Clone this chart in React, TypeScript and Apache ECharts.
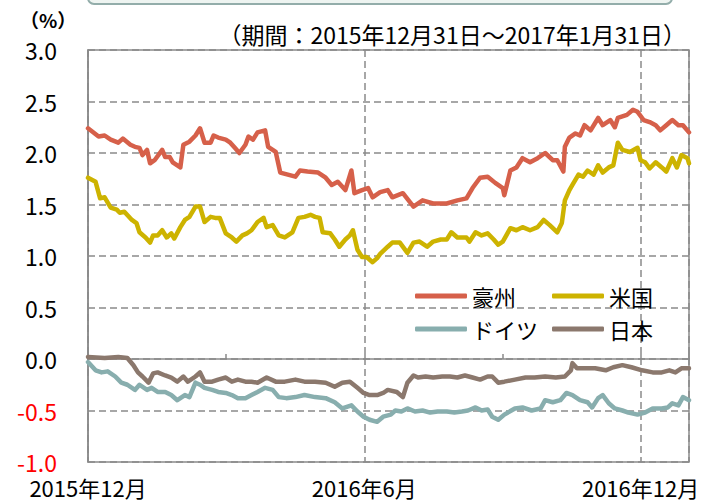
import React, { useEffect, useRef } from "react";
import * as echarts from "echarts";

// Day offsets from 2015-12-31, values in %
const seriesNames = ["豪州", "米国", "ドイツ", "日本"];
const seriesColors = ["#D6604A", "#CDB300", "#88AEAE", "#8B786D"];

const aus: [number, number][] = [
  [0, 2.24], [7, 2.16], [11, 2.17], [15, 2.13], [20, 2.1], [23, 2.14], [28, 2.08], [31, 2.06], [34, 2.05],
  [36, 1.98], [39, 2.03], [41, 1.9], [44, 1.93], [49, 2.03], [51, 1.96], [54, 1.96], [56, 1.91], [61, 1.86],
  [63, 2.08], [67, 2.11], [71, 2.17], [74, 2.24], [77, 2.1], [81, 2.1], [83, 2.17], [86, 2.15], [91, 2.13],
  [94, 2.1], [97, 2.05], [100, 2.0], [104, 2.08], [106, 2.16], [109, 2.13], [112, 2.2], [117, 2.22], [119, 2.06],
  [124, 2.01], [127, 1.81], [132, 1.79], [137, 1.77], [140, 1.83], [145, 1.82], [152, 1.81], [157, 1.76],
  [161, 1.69], [165, 1.72], [170, 1.64], [174, 1.83], [176, 1.61], [181, 1.64], [185, 1.66], [188, 1.57],
  [193, 1.62], [198, 1.64], [201, 1.57], [208, 1.61], [215, 1.48], [221, 1.54], [228, 1.51], [237, 1.51],
  [244, 1.54], [250, 1.56], [254, 1.66], [259, 1.76], [264, 1.77], [269, 1.71], [274, 1.66], [275, 1.59],
  [279, 1.83], [283, 1.86], [287, 1.95], [292, 1.91], [297, 1.95], [302, 2.0], [307, 1.93], [310, 1.93],
  [314, 1.82], [315, 2.06], [318, 2.15], [322, 2.19], [325, 2.17], [328, 2.27], [332, 2.22], [337, 2.34],
  [340, 2.27], [345, 2.32], [348, 2.25], [350, 2.34], [356, 2.37], [360, 2.42], [363, 2.4], [367, 2.32],
  [371, 2.3], [375, 2.27], [378, 2.22], [382, 2.27], [386, 2.32], [390, 2.27], [393, 2.27], [397, 2.2],
];

const us: [number, number][] = [
  [0, 1.76], [5, 1.72], [8, 1.56], [11, 1.57], [15, 1.47], [19, 1.45], [21, 1.42], [24, 1.43], [29, 1.35],
  [32, 1.32], [34, 1.23], [38, 1.18], [41, 1.13], [43, 1.2], [46, 1.2], [49, 1.25], [52, 1.18], [55, 1.22],
  [57, 1.17], [61, 1.28], [64, 1.35], [67, 1.38], [71, 1.48], [74, 1.48], [77, 1.33], [81, 1.38], [84, 1.37],
  [87, 1.37], [91, 1.22], [95, 1.18], [98, 1.14], [102, 1.2], [105, 1.22], [108, 1.25], [112, 1.33], [116, 1.37],
  [118, 1.28], [122, 1.3], [126, 1.2], [130, 1.18], [135, 1.23], [139, 1.37], [143, 1.38], [147, 1.4],
  [150, 1.38], [153, 1.37], [155, 1.23], [160, 1.22], [163, 1.16], [166, 1.09], [170, 1.16], [173, 1.2],
  [175, 1.25], [178, 1.06], [181, 0.99], [184, 0.99], [188, 0.94], [191, 0.98], [193, 1.02], [198, 1.09],
  [201, 1.13], [206, 1.13], [211, 1.03], [215, 1.13], [219, 1.14], [224, 1.09], [228, 1.14], [233, 1.16],
  [237, 1.16], [240, 1.23], [244, 1.18], [250, 1.18], [252, 1.14], [256, 1.23], [260, 1.2], [264, 1.22],
  [268, 1.16], [271, 1.11], [274, 1.14], [279, 1.27], [283, 1.25], [287, 1.28], [292, 1.25], [297, 1.28],
  [301, 1.35], [305, 1.3], [310, 1.23], [313, 1.32], [315, 1.54], [318, 1.64], [320, 1.69], [324, 1.79],
  [327, 1.77], [330, 1.83], [334, 1.79], [337, 1.88], [340, 1.81], [344, 1.86], [347, 1.88], [350, 2.1],
  [353, 2.03], [358, 2.01], [363, 2.05], [365, 1.93], [368, 1.91], [371, 1.85], [375, 1.91], [379, 1.86],
  [382, 1.82], [386, 1.95], [389, 1.86], [392, 1.98], [396, 1.95], [397, 1.9],
];

const de: [number, number][] = [
  [0, -0.03], [5, -0.11], [9, -0.13], [13, -0.12], [18, -0.17], [22, -0.23], [26, -0.25], [31, -0.3],
  [34, -0.25], [39, -0.3], [42, -0.28], [46, -0.32], [51, -0.32], [55, -0.35], [59, -0.4], [64, -0.35],
  [67, -0.37], [71, -0.23], [74, -0.25], [77, -0.28], [82, -0.3], [86, -0.32], [91, -0.33], [95, -0.35],
  [99, -0.38], [104, -0.38], [108, -0.35], [112, -0.32], [117, -0.28], [122, -0.3], [126, -0.37], [131, -0.38],
  [137, -0.37], [143, -0.35], [150, -0.37], [157, -0.38], [163, -0.42], [168, -0.48], [174, -0.45],
  [178, -0.51], [182, -0.56], [186, -0.59], [191, -0.61], [195, -0.56], [200, -0.54], [203, -0.5],
  [207, -0.51], [211, -0.48], [216, -0.51], [221, -0.5], [226, -0.52], [231, -0.51], [237, -0.51],
  [242, -0.52], [247, -0.51], [251, -0.5], [256, -0.47], [260, -0.5], [264, -0.49], [267, -0.56],
  [271, -0.59], [275, -0.54], [282, -0.48], [287, -0.47], [293, -0.5], [299, -0.48], [302, -0.4],
  [307, -0.42], [312, -0.4], [316, -0.33], [320, -0.35], [325, -0.4], [330, -0.42], [333, -0.47],
  [337, -0.38], [340, -0.35], [344, -0.43], [348, -0.48], [353, -0.5], [357, -0.52], [363, -0.54],
  [368, -0.52], [373, -0.48], [379, -0.48], [383, -0.47], [386, -0.43], [390, -0.45], [393, -0.37], [397, -0.4],
];

const jp: [number, number][] = [
  [0, 0.02], [11, 0.01], [20, 0.02], [26, 0.01], [30, -0.06], [33, -0.13], [36, -0.17], [40, -0.23],
  [43, -0.14], [46, -0.13], [51, -0.16], [55, -0.18], [59, -0.22], [63, -0.17], [66, -0.22], [71, -0.17],
  [74, -0.13], [77, -0.22], [82, -0.22], [86, -0.2], [91, -0.18], [95, -0.22], [99, -0.2], [104, -0.22],
  [108, -0.22], [112, -0.23], [118, -0.18], [124, -0.22], [130, -0.22], [137, -0.2], [143, -0.22],
  [150, -0.22], [157, -0.23], [163, -0.27], [168, -0.23], [173, -0.22], [178, -0.28], [182, -0.33],
  [186, -0.35], [191, -0.35], [195, -0.33], [198, -0.3], [204, -0.32], [208, -0.37], [211, -0.23],
  [215, -0.16], [218, -0.18], [223, -0.17], [228, -0.18], [234, -0.17], [239, -0.17], [244, -0.18],
  [249, -0.16], [254, -0.18], [259, -0.2], [264, -0.17], [267, -0.17], [271, -0.23], [275, -0.22],
  [282, -0.2], [289, -0.18], [295, -0.18], [302, -0.17], [309, -0.18], [315, -0.17], [319, -0.11],
  [320, -0.04], [323, -0.09], [328, -0.09], [335, -0.09], [342, -0.11], [347, -0.08], [353, -0.06],
  [359, -0.08], [366, -0.11], [373, -0.13], [379, -0.13], [384, -0.11], [388, -0.13], [392, -0.09], [397, -0.09],
];

const seriesData = [aus, us, de, jp];

const xTickDays = [0, 182.5, 365];
const xTickLabels = ["2015年12月", "2016年6月", "2016年12月"];
const yMin = -1;
const yMax = 3;
const yStep = 0.5;
const periodText = "（期間：2015年12月31日～2017年1月31日）";
const unitText = "（%）";

const FONT = '"Noto Sans CJK JP", "Noto Sans", sans-serif';
const GRID_GRAY = "#8a8a8a";

export default function App() {
  const ref = useRef<HTMLDivElement>(null);
  useEffect(() => {
    if (!ref.current) return;
    const chart = echarts.init(ref.current, undefined, { renderer: "svg" });
    const option: any = {
      animation: false,
      backgroundColor: "#ffffff",
      textStyle: { fontFamily: FONT },
      grid: {
        left: 88,
        right: 17,
        top: 50,
        bottom: 42,
        show: true,
        borderColor: GRID_GRAY,
        borderWidth: 1.5,
      },
      graphic: [
        {
          type: "rect",
          shape: { x: 88, y: -30, width: 584, height: 34, r: 6 },
          style: { fill: "#EEF4F1", stroke: "#93ADAA", lineWidth: 2 },
        },
        {
          type: "text",
          left: 20,
          top: 10,
          style: { text: unitText, font: `bold 19px ${FONT}`, fill: "#000" },
        },
        {
          type: "text",
          right: 20,
          top: 22,
          style: { text: periodText, font: `23px ${FONT}`, fill: "#000" },
        },
      ],
      legend: [
        {
          data: [seriesNames[0], seriesNames[2]],
          orient: "vertical",
          left: 410,
          top: 280,
          itemWidth: 52,
          itemHeight: 5,
          itemGap: 11,
          icon: "roundRect",
          textStyle: { fontSize: 22, color: "#000", fontFamily: FONT },
        },
        {
          data: [seriesNames[1], seriesNames[3]],
          orient: "vertical",
          left: 547,
          top: 280,
          itemWidth: 52,
          itemHeight: 5,
          itemGap: 11,
          icon: "roundRect",
          textStyle: { fontSize: 22, color: "#000", fontFamily: FONT },
        },
      ],
      xAxis: [
        {
          type: "value",
          min: 0,
          max: 397,
          interval: 182.5,
          position: "bottom",
          axisLine: { show: false, onZero: false },
          axisTick: { show: false },
          axisLabel: {
            fontSize: 22,
            lineHeight: 22,
            color: "#000",
            margin: 14,
            fontFamily: FONT,
            formatter: (v: number) => {
              const i = xTickDays.findIndex((d) => Math.abs(d - v) < 0.5);
              return i >= 0 ? xTickLabels[i] : "";
            },
          },
          splitLine: {
            show: true,
            lineStyle: { color: GRID_GRAY, width: 1.5, type: [7, 4] },
          },
        },
        {
          type: "value",
          min: 0,
          max: 397,
          interval: 91.25,
          position: "top",
          axisLine: { show: true, onZero: true, lineStyle: { color: GRID_GRAY, width: 1.5 } },
          axisTick: { show: true, inside: false, length: 5, lineStyle: { color: GRID_GRAY, width: 1.5 } },
          axisLabel: { show: false },
          splitLine: { show: false },
        },
      ],
      yAxis: {
        type: "value",
        min: yMin,
        max: yMax,
        interval: yStep,
        axisLine: { show: true, lineStyle: { color: GRID_GRAY, width: 1.5 } },
        axisTick: { show: false },
        axisLabel: {
          fontSize: 23,
          lineHeight: 20,
          margin: 31,
          fontFamily: FONT,
          formatter: (v: number) => Number(v).toFixed(1),
          color: (v: any) => (Number(v) < 0 ? "#FF0000" : "#000000"),
        },
        splitLine: {
          show: true,
          lineStyle: { color: GRID_GRAY, width: 1.5, type: [7, 4] },
        },
      },
      series: seriesNames.map((name, i) => ({
        name,
        type: "line",
        xAxisIndex: 0,
        data: seriesData[i],
        showSymbol: false,
        symbol: "none",
        color: seriesColors[i],
        lineStyle: { width: 4.5, color: seriesColors[i], cap: "round", join: "round" },
      })),
    };
    chart.setOption(option);
    return () => chart.dispose();
  }, []);
  return (
    <div
      ref={ref}
      style={{ position: "fixed", left: 0, top: 0, width: 706, height: 504 }}
    />
  );
}
